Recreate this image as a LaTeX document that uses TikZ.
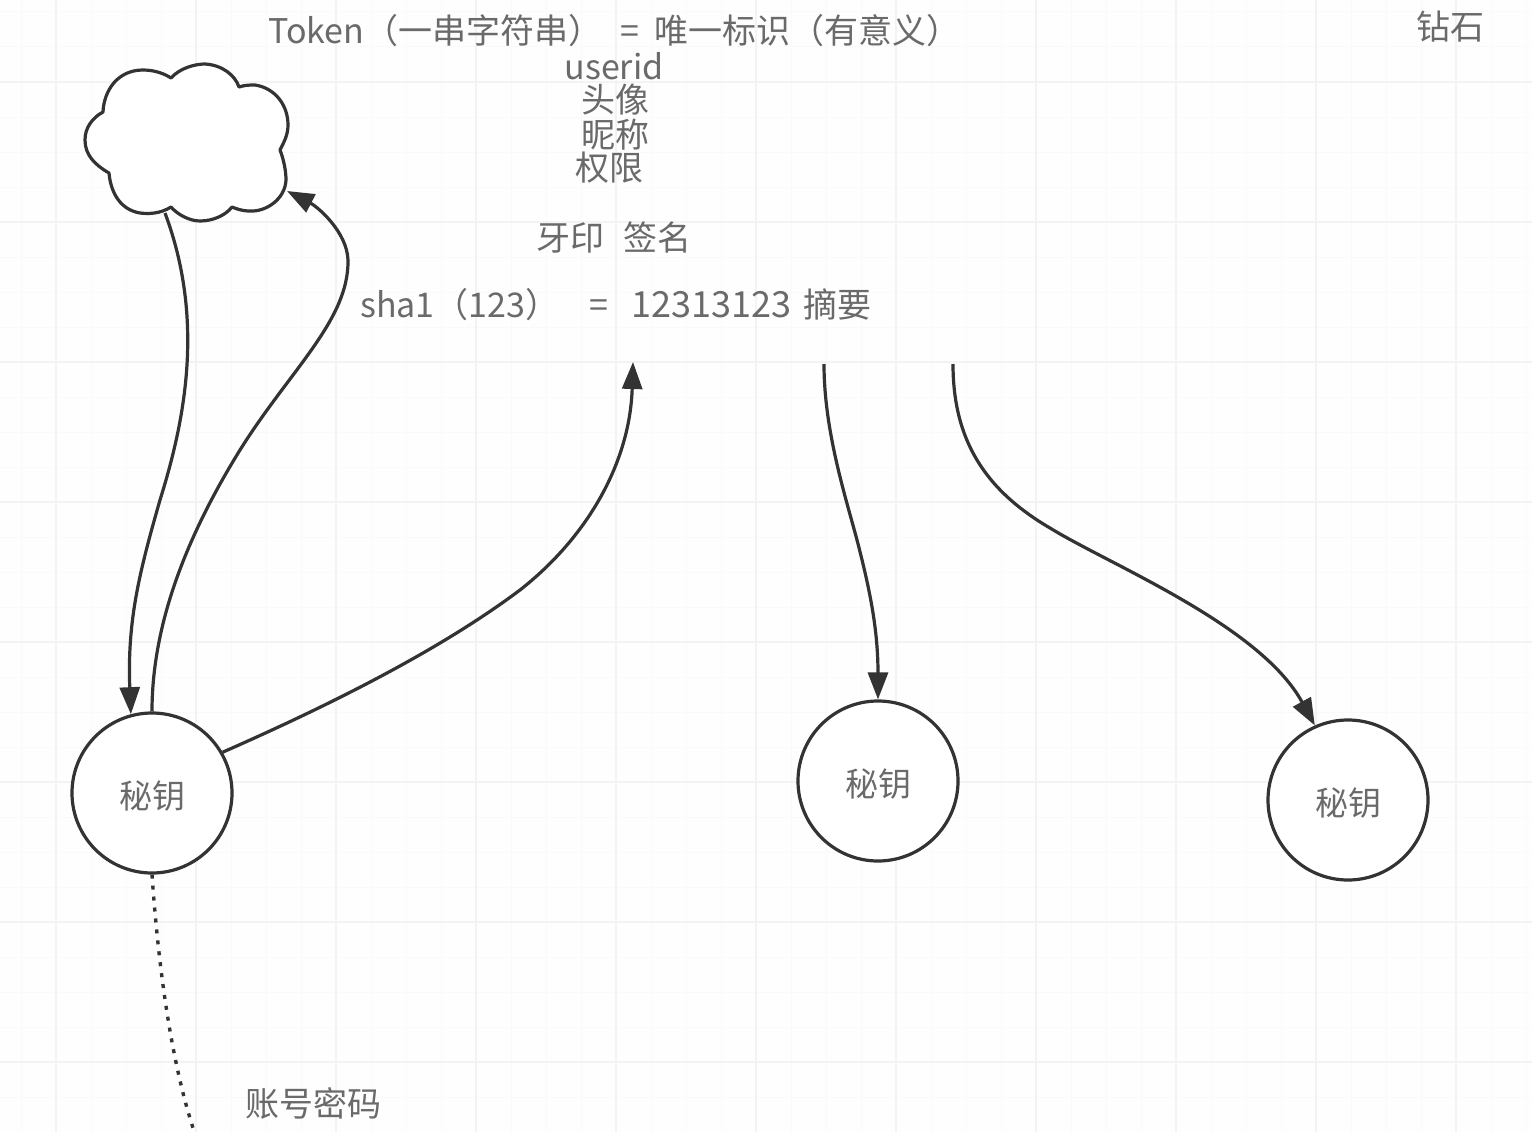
\documentclass[tikz,border=0pt]{standalone}
\usepackage{fontspec}
\setmainfont{Noto Sans CJK SC}
\usetikzlibrary{arrows.meta}
\definecolor{txtgray}{HTML}{6A6A6A}
\definecolor{inkdark}{HTML}{333333}
\definecolor{gridmajor}{HTML}{F3F3F3}
\definecolor{gridminor}{HTML}{FAFAFA}
\definecolor{paper}{HTML}{FEFEFE}
\tikzset{
  x=1pt,y=-1pt,
  label text/.style={text=txtgray,inner sep=0pt,font=\fontsize{34}{34}\selectfont},
  keycircle/.style={circle,draw=inkdark,line width=3.2pt,fill=white,minimum size=160pt,inner sep=0pt,text=txtgray,font=\fontsize{33}{33}\selectfont},
  link/.style={draw=inkdark,line width=3.2pt,-{Triangle[length=27pt,width=20pt]}},
  dotlink/.style={draw=inkdark,line width=3.4pt,dash pattern=on 4pt off 7pt},
}
\begin{document}
\begin{tikzpicture}
\useasboundingbox (0,0) rectangle (1532,1132);
\fill[paper] (0,0) rectangle (1532,1132);
% grid
\foreach \k in {0,...,44}{\draw[gridminor,line width=1pt] ({21+35*\k},0) -- ({21+35*\k},1132);}
\foreach \k in {0,...,32}{\draw[gridminor,line width=1pt] (0,{12+35*\k}) -- (1532,{12+35*\k});}
\foreach \k in {0,...,10}{\draw[gridmajor,line width=1.4pt] ({56+140*\k},0) -- ({56+140*\k},1132);}
\foreach \k in {0,...,7}{\draw[gridmajor,line width=1.4pt] (0,{82+140*\k}) -- (1532,{82+140*\k});}
% cloud
\draw[inkdark,line width=3.2pt,fill=white,line join=round]
 (103,112) .. controls (104,90) and (118,70) .. (143,70) .. controls (155,70) and (165,74) .. (171,78)
 .. controls (180,68) and (195,64) .. (205,64) .. controls (222,65) and (235,75) .. (239,87)
 .. controls (245,85) and (250,85) .. (255,85) .. controls (275,88) and (288,105) .. (288,125)
 .. controls (288,135) and (284,142) .. (280,150)
 .. controls (284,160) and (286,172) .. (286,180) .. controls (285,200) and (265,212) .. (250,211)
 .. controls (242,211) and (237,209) .. (232,207)
 .. controls (225,216) and (212,221) .. (200,221) .. controls (190,221) and (178,215) .. (171,207)
 .. controls (160,214) and (148,214) .. (140,213) .. controls (122,210) and (111,195) .. (109,173)
 .. controls (95,165) and (85,155) .. (85,140) .. controls (85,128) and (92,118) .. (103,112) -- cycle;
\coordinate (cloudout) at (165,213);
\coordinate (cloudin) at (287,191);
\coordinate (sigIn) at (633,362);
\coordinate (sigOutA) at (824,364);
\coordinate (sigOutB) at (953,364);
\coordinate (dotEnd) at (195,1134);
% circles
\node[keycircle] (k1) at (152,793) {\raisebox{-15pt}[0pt][0pt]{秘钥}};
\node[keycircle] (k2) at (878,781) {\raisebox{-15pt}[0pt][0pt]{秘钥}};
\node[keycircle] (k3) at (1348,800) {\raisebox{-15pt}[0pt][0pt]{秘钥}};
% connectors
\path[link] (cloudout) .. controls (205,320) and (185,420) .. (160,500) .. controls (140,570) and (127,620) .. (k1.105);
\path[link] (k1.north) .. controls (152,640) and (175,555) .. (240,450) .. controls (290,370) and (349,320) .. (348,260) .. controls (347,232) and (318,207) .. (cloudin);
\path[link] (k1.30) .. controls (330,705) and (440,650) .. (520,590) .. controls (590,535) and (630,460) .. (sigIn);
\path[link] (sigOutA) .. controls (824,430) and (845,495) .. (857,540) .. controls (870,590) and (878,630) .. (k2.north);
\path[link] (sigOutB) .. controls (953,440) and (985,490) .. (1050,528) .. controls (1110,565) and (1260,625) .. (k3.114);
\path[dotlink] (k1.south) .. controls (158,960) and (170,1060) .. (dotEnd);
% texts
\node[label text,anchor=west] (tok) at (268,31) {Token（一串字符串）\hspace{18pt}=\hspace{15pt}唯一标识（有意义）};
\node[label text] (uid) at (614,66) {userid};
\node[label text] (ava) at (615,100) {头像};
\node[label text] (nick) at (615,135) {昵称};
\node[label text] (perm) at (609,168) {权限};
\node[label text] (sign) at (614,238) {牙印\hspace{20pt}签名};
\node[label text,anchor=west] (sha) at (360,305) {sha1（123）\hspace{30pt}=\hspace{23pt}{\fontsize{36}{36}\selectfont 12313123}\hspace{12pt}摘要};
\node[label text] (dia) at (1450,27) {钻石};
\node[label text] (acct) at (313,1103) {账号密码};
\end{tikzpicture}
\end{document}
